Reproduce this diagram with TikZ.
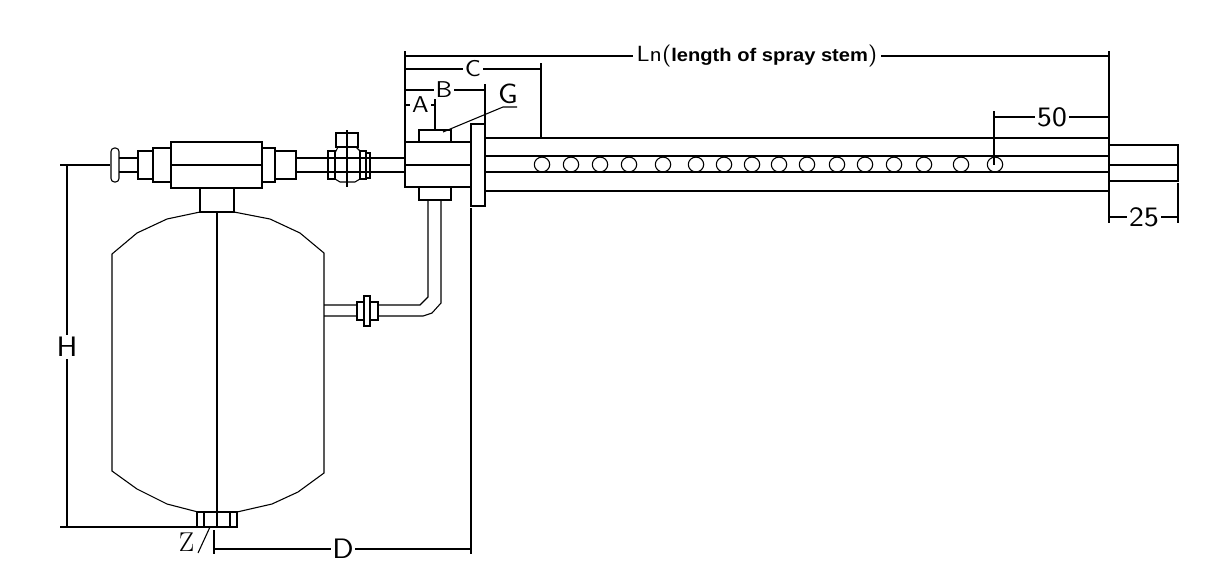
\documentclass[tikz,border=0pt]{standalone}
\usepackage{fontspec}
\newfontfamily\cadfont{Latin Modern Sans}[FakeStretch=1.12]
\newfontfamily\stemfont{Liberation Sans}[FakeStretch=1.1]
\usetikzlibrary{positioning,calc}
\tikzset{
  line/.style={line width=0.62pt, black},
  dimtext/.style={fill=white, inner sep=1pt, font=\cadfont\fontsize{16}{16}\selectfont},
  smalltext/.style={dimtext, font=\cadfont\fontsize{13}{13}\selectfont}
}
\begin{document}
\begin{tikzpicture}[x=0.02cm, y=-0.02cm]
    \useasboundingbox (0,0) rectangle (1227,576);

    % Tank
    \draw[line] (200,212) -- (167,219) -- (137,233) -- (112,254) -- (112,471) -- (137,489) -- (167,504) -- (198,512);
    \draw[line] (234,212) -- (270,219) -- (300,233) -- (324,253) -- (324,473) -- (298,492) -- (272,504) -- (237,512);
    \draw[line] (217,211) -- (217,527);
    \draw[line] (200,188) rectangle (234,212);

    % Drain
    \draw[line] (197,512) rectangle (237,527);
    \draw[line] (204,512) -- (204,527);
    \draw[line] (230,512) -- (230,527);

    % Top valve
    \draw[line] (171,142) rectangle (262,188);
    \draw[line] (171,165) -- (262,165);
    \draw[line] (153,148) rectangle (171,182);
    \draw[line] (138,151) rectangle (153,179);
    \draw[line] (262,148) rectangle (275,182);
    \draw[line] (275,151) rectangle (296,179);
    \draw[line] (119,158) -- (138,158);
    \draw[line] (119,172) -- (138,172);
    \draw[line, rounded corners=2pt] (111,148) rectangle (119,182);
    \draw[line] (296,158) -- (405,158);
    \draw[line] (296,172) -- (405,172);

    % Ball valve
    \draw[line] (328,151) rectangle (335,179);
    \draw[line] (360,151) rectangle (366,179);
    \draw[line] (366,153) rectangle (370,178);
    \draw[line] (336,133) rectangle (358,147);
    \draw[line, line width=1.1pt] (338,147) -- (356,147);
    \draw[line] (335,153) -- (338,147);
    \draw[line] (356,147) -- (360,151);
    \draw[line] (335,179) -- (340,182) -- (355,182) -- (360,179);
    \draw[line] (347,130) -- (347,187);

    % Tee body
    \draw[line] (405,142) rectangle (471,187);
    \draw[line] (405,165) -- (471,165);
    \draw[line] (419,130) rectangle (451,142);
    \draw[line] (419,187) rectangle (451,200);

    % Flange
    \draw[line] (471,124) rectangle (485,206);

    % Stem
    \draw[line] (485,138) -- (1109,138);
    \draw[line] (485,156) -- (1109,156);
    \draw[line] (485,172) -- (1109,172);
    \draw[line] (485,191) -- (1109,191);
    \foreach \hx in {542,571,600,629,663,696,724,752,779,807,837,865,894,924,961,995}
        \draw[line] (\hx,164.5) ellipse (7.7 and 7.4);

    % End nozzle
    \draw[line] (1109,145) rectangle (1178,181);
    \draw[line] (1109,165) -- (1178,165);

    % Feed pipe
    \draw[line] (428,200) -- (428,297) -- (420,305) -- (324,305);
    \draw[line] (441,200) -- (441,303) -- (432,313) -- (423,316) -- (324,316);
    \draw[line, fill=white] (357,302) rectangle (378,320);
    \draw[line, fill=white] (364,296) rectangle (370,326);

    % Dimensions
    \draw[line] (405,51) -- (405,141);
    \draw[line] (1109,51) -- (1109,191);
    \draw[line] (405,56) -- (1109,56);
    \node[dimtext, inner sep=2pt] (lnlabel) at (757,56) {\fontsize{12.5}{12.5}\selectfont Ln(\stemfont\fontsize{10.4}{12}\selectfont\bfseries length of spray stem\cadfont\mdseries\fontsize{12.5}{12.5}\selectfont)};
    \draw[line] (405,69) -- (541,69);
    \draw[line] (541,63) -- (541,137);
    \node[smalltext] (clabel) at (473,69) {C};
    \draw[line] (405,90) -- (485,90);
    \draw[line] (485,84) -- (485,123);
    \node[smalltext] (blabel) at (444,90) {B};
    \draw[line] (405,105) -- (435,105);
    \draw[line] (435,99) -- (435,129);
    \node[smalltext] (alabel) at (420.5,105) {A};
    \draw[line] (443,132) -- (503,107) -- (517,107);
    \node[dimtext, fill=none] (glabel) at (508,94) {G};
    \draw[line] (994,111) -- (994,165);
    \draw[line] (994,117) -- (1109,117);
    \node[dimtext] (fiftylabel) at (1052,117) {50};
    \draw[line] (1109,181) -- (1109,223);
    \draw[line] (1178,183) -- (1178,223);
    \draw[line] (1109,217) -- (1178,217);
    \node[dimtext] (twentyfivelabel) at (1144,217) {25};
    \draw[line] (60,165) -- (110,165);
    \draw[line] (67,165) -- (67,527);
    \draw[line] (60,527) -- (197,527);
    \node[dimtext] (hlabel) at (67,347) {H};
    \draw[line] (214,530) -- (214,554);
    \draw[line] (214,549) -- (471,549);
    \draw[line] (471,208) -- (471,554);
    \node[dimtext] (dlabel) at (343,549) {D};
    \draw[line] (210,527) -- (198,553);
    \node[inner sep=0pt, font=\fontsize{15.5}{15.5}\selectfont] (zlabel) at (186.5,542) {Z};
\end{tikzpicture}
\end{document}
